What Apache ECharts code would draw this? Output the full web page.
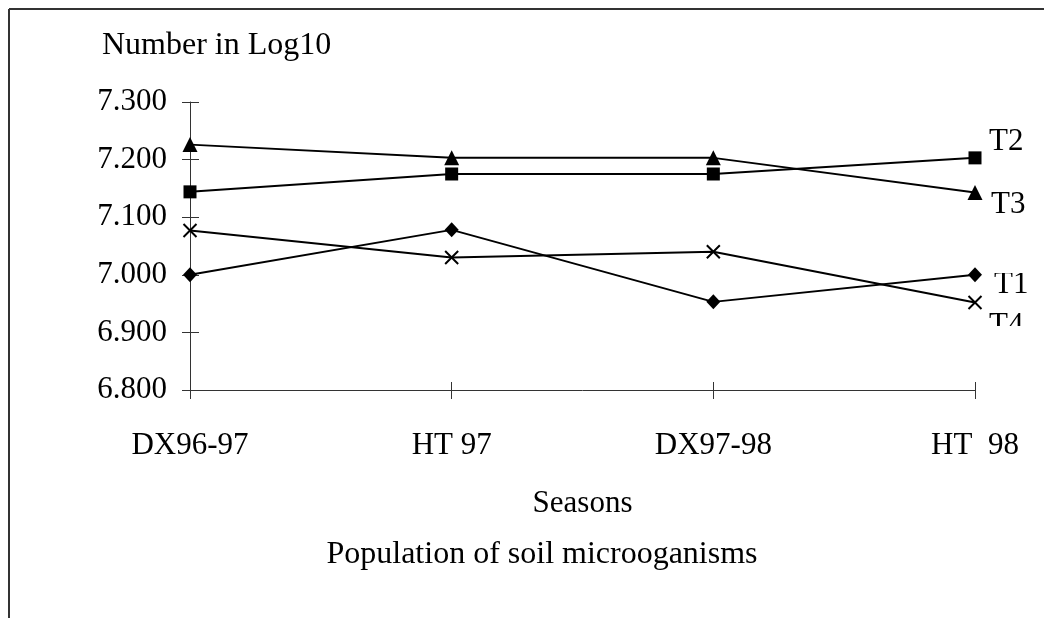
<!DOCTYPE html>
<html>
<head>
<meta charset="utf-8">
<script src="https://cdn.jsdelivr.net/npm/echarts@6/dist/echarts.min.js"></script>
<style>
  html, body { margin: 0; padding: 0; background: #fff; }
  #chart { width: 1044px; height: 618px; }
</style>
</head>
<body>
<div id="chart"></div>
<script>
const seasons = ['DX96-97', 'HT 97', 'DX97-98', 'HT  98'];
const t1 = [7.000, 7.078, 6.953, 7.000];
const t2 = [7.144, 7.175, 7.175, 7.203];
const t3 = [7.226, 7.203, 7.203, 7.143];
const t4 = [7.077, 7.030, 7.040, 6.952];

const font = 'Liberation Serif';
const crossPath = 'path://M0,0L10,10M10,0L0,10';

function makeSeries(name, data, symbol, size, offset) {
    return {
        name: name,
        type: 'line',
        data: data,
        symbol: symbol,
        symbolSize: size,
        showAllSymbol: true,
        lineStyle: { color: '#000', width: 2 },
        itemStyle: symbol === crossPath
            ? { color: 'transparent', borderColor: '#000', borderWidth: 2 }
            : { color: '#000' },
        endLabel: {
            show: true, formatter: name, offset: offset,
            fontFamily: font, fontSize: 31, color: '#000'
        },
        emphasis: { disabled: true },
        animation: false
    };
}

const chart = echarts.init(document.getElementById('chart'));
chart.setOption({
    backgroundColor: '#fff',
    animation: false,
    title: {
        text: 'Population of soil microoganisms',
        left: 537, top: 534, textAlign: 'center',
        textStyle: { fontFamily: font, fontSize: 32, fontWeight: 'normal', color: '#000' }
    },
    grid: { left: 190, right: 69, top: 102, bottom: 228 },
    xAxis: [{
        type: 'category', data: seasons, boundaryGap: false,
        axisLine: { lineStyle: { color: '#333', width: 1 } },
        axisTick: { show: true, inside: false, length: 9, lineStyle: { color: '#333' } },
        axisLabel: { margin: 40, fontFamily: font, fontSize: 31, color: '#000' },
        name: 'Seasons', nameLocation: 'middle', nameGap: 98,
        nameTextStyle: { fontFamily: font, fontSize: 31, color: '#000' },
        splitLine: { show: false }
    }, {
        type: 'category', data: seasons, boundaryGap: false, position: 'bottom',
        axisLine: { show: false },
        axisTick: { show: true, inside: true, length: 8, lineStyle: { color: '#333' } },
        axisLabel: { show: false },
        splitLine: { show: false }
    }],
    yAxis: [{
        type: 'value', min: 6.8, max: 7.3, interval: 0.1,
        axisLine: { show: true, lineStyle: { color: '#333', width: 1 } },
        axisTick: { show: true, inside: false, length: 8, lineStyle: { color: '#333' } },
        axisLabel: {
            margin: 23, fontFamily: font, fontSize: 31, color: '#000',
            formatter: v => v.toFixed(3)
        },
        splitLine: { show: false }
    }, {
        type: 'value', min: 6.8, max: 7.3, interval: 0.1, position: 'left',
        axisLine: { show: false },
        axisTick: { show: true, inside: true, length: 9, lineStyle: { color: '#333' } },
        axisLabel: { show: false },
        splitLine: { show: false }
    }],
    series: [
        makeSeries('T1', t1, 'diamond', [14, 15], [11, 10]),
        makeSeries('T2', t2, 'rect', 13, [6, -16]),
        makeSeries('T3', t3, 'triangle', 15, [8, 12]),
        makeSeries('T4', t4, crossPath, 13, [6, 23])
    ],
    graphic: [
        { type: 'line', shape: { x1: 9, y1: 9, x2: 1044, y2: 9 }, style: { stroke: '#333', lineWidth: 2 } },
        { type: 'line', shape: { x1: 9, y1: 9, x2: 9, y2: 618 }, style: { stroke: '#333', lineWidth: 2 } },
        {
            type: 'text', x: 102, y: 30,
            style: { text: 'Number in Log10', fontFamily: font, fontSize: 32, fill: '#000' }
        },
        // the reference crops these text boxes at their edges
        { type: 'rect', z: 100, shape: { x: 986, y: 262, width: 58, height: 11 }, style: { fill: '#fff' } },
        { type: 'rect', z: 100, shape: { x: 95, y: 61, width: 250, height: 14 }, style: { fill: '#fff' } },
        { type: 'rect', z: 100, shape: { x: 986, y: 326, width: 58, height: 20 }, style: { fill: '#fff' } }
    ]
});
</script>
</body>
</html>
